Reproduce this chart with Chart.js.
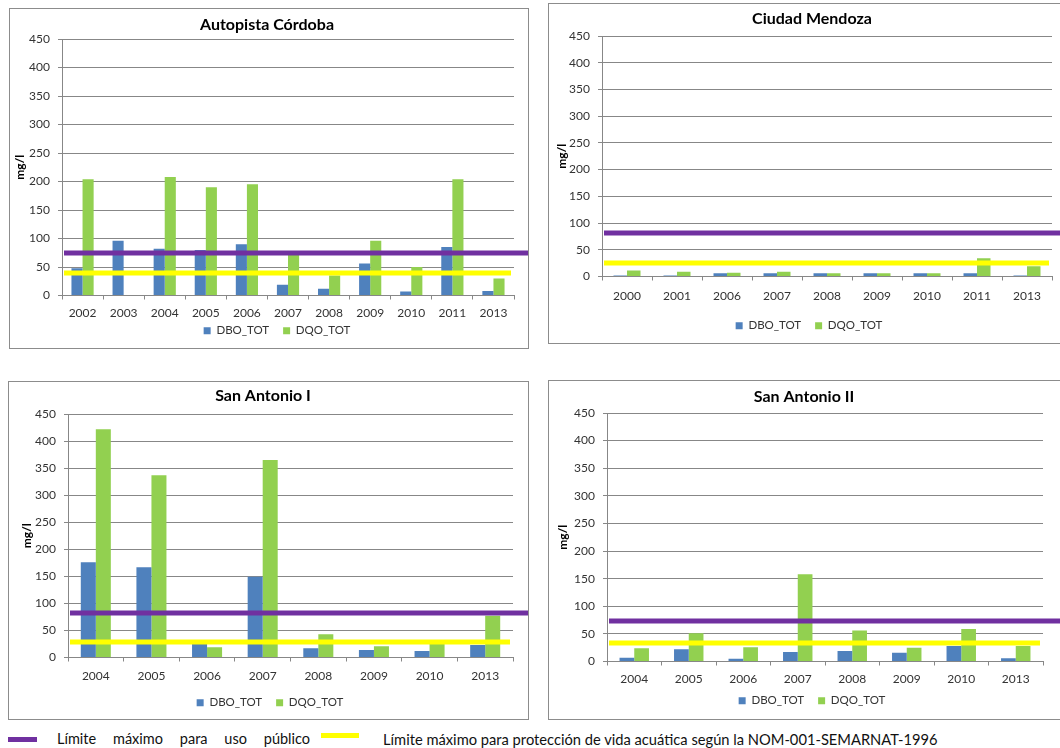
<!DOCTYPE html>
<html lang="es">
<head>
<meta charset="utf-8">
<title>DBO y DQO por sitio de muestreo</title>
<script src="https://cdn.jsdelivr.net/npm/chart.js@4.4.1/dist/chart.umd.min.js"></script>
<style>
  html, body { margin: 0; padding: 0; background: #fff; }
  body { width: 1060px; height: 748px; overflow: hidden; position: relative; font-family: Lato, "Open Sans", sans-serif; }
  .panel { position: absolute; }
  .frame { position: absolute; border: 1px solid #8c8c8c; box-sizing: border-box; pointer-events: none; }
  .key { position: absolute; top: 729px; height: 20px; font-size: 14.7px; color: #111; line-height: 20px; }
  .swatch { position: absolute; height: 5px; }
  .spread { display: flex; justify-content: space-between; font-size: 14.5px; }
</style>
</head>
<body>

<canvas id="c1" class="panel" width="520" height="341" style="left:9px;top:8px"></canvas>
<div class="frame" style="left:9px;top:8px;width:520px;height:341px"></div>

<canvas id="c2" class="panel" width="520" height="341" style="left:548px;top:3px"></canvas>
<div class="frame" style="left:548px;top:3px;width:520px;height:341px"></div>

<canvas id="c3" class="panel" width="521" height="339" style="left:8px;top:381px"></canvas>
<div class="frame" style="left:8px;top:381px;width:521px;height:339px"></div>

<canvas id="c4" class="panel" width="520" height="340" style="left:548px;top:380px"></canvas>
<div class="frame" style="left:548px;top:380px;width:520px;height:340px"></div>

<!-- common key for the two limit lines -->
<div class="swatch" style="left:8px;top:737px;width:29px;background:#7030A0"></div>
<div class="key spread" style="left:57px;width:253px">
  <span>Límite</span><span>máximo</span><span>para</span><span>uso</span><span>público</span>
</div>
<div class="swatch" style="left:321px;top:733px;width:38px;background:#FFFF00"></div>
<div class="key" style="left:383px;white-space:nowrap">Límite máximo para protección de vida acuática según la NOM-001-SEMARNAT-1996</div>

<script>
// ---- data ----
const seriesNames = ['DBO_TOT', 'DQO_TOT'];
const yTicks = { min: 0, max: 450, step: 50 };

const yearsCordoba = ['2002', '2003', '2004', '2005', '2006', '2007', '2008', '2009', '2010', '2011', '2013'];
const dboCordoba   = [48, 96, 82, 80, 90, 19, 12, 56, 7, 85, 8];
const dqoCordoba   = [204, 0, 208, 190, 195, 78, 35, 96, 50, 204, 30];

const yearsMendoza = ['2000', '2001', '2006', '2007', '2008', '2009', '2010', '2011', '2013'];
const dboMendoza   = [2, 2, 6, 6, 6, 6, 6, 6, 2];
const dqoMendoza   = [11, 9, 7, 9, 6, 6, 6, 34, 19];

const yearsSanAntonio1 = ['2004', '2005', '2006', '2007', '2008', '2009', '2010', '2013'];
const dboSanAntonio1   = [176, 167, 25, 149, 17, 14, 12, 23];
const dqoSanAntonio1   = [422, 337, 19, 365, 43, 21, 25, 77];

const yearsSanAntonio2 = ['2004', '2005', '2006', '2007', '2008', '2009', '2010', '2013'];
const dboSanAntonio2   = [7, 22, 5, 17, 19, 16, 28, 6];
const dqoSanAntonio2   = [24, 51, 26, 158, 56, 25, 59, 28];

// limit lines (mg/l) drawn across each station chart
const stationNames     = ['Autopista Córdoba', 'Ciudad Mendoza', 'San Antonio I', 'San Antonio II'];
const limitPublicUse   = [75, 82, 83, 74];
const limitAquaticLife = [40, 26, 29, 34];

// ---- styling ----
const BLUE = '#4F81BD';
const GREEN = '#92D050';
const PURPLE = '#7030A0';
const YELLOW = '#FFFF00';
const GRID = '#878787';

Chart.defaults.font.family = 'Lato, "Open Sans", sans-serif';
Chart.defaults.color = '#333';

// horizontal limit lines, positioned with the chart's own y scale
const limitLines = {
  id: 'limitLines',
  afterDatasetsDraw(chart, args, opts) {
    const { ctx, chartArea, scales } = chart;
    const y = scales.y;
    ctx.save();
    ctx.lineWidth = 5;
    ctx.lineCap = 'butt';
    const yp = Math.round(y.getPixelForValue(opts.publicUse));
    ctx.strokeStyle = PURPLE;
    ctx.beginPath();
    ctx.moveTo(chartArea.left + 2, yp);
    ctx.lineTo(chart.width, yp);
    ctx.stroke();
    const ya = Math.round(y.getPixelForValue(opts.aquaticLife));
    ctx.strokeStyle = YELLOW;
    ctx.beginPath();
    ctx.moveTo(chartArea.left + 2, ya);
    ctx.lineTo(chartArea.right - 3, ya);
    ctx.stroke();
    ctx.restore();
  }
};

// place the title and the series legend at given positions
const blockPlace = {
  id: 'blockPlace',
  afterLayout(chart, args, opts) {
    const t = chart.titleBlock;
    if (t && opts.titleX != null) {
      const dx = opts.titleX - (t.left + t.right) / 2;
      t.left += dx; t.right += dx;
    }
    const l = chart.legend;
    if (l && opts.legendX != null) {
      const w = l.right - l.left;
      const h = l.bottom - l.top;
      l.left = opts.legendX - w / 2;
      l.right = l.left + w;
      l.top = opts.legendY - l.options.labels.padding - 6;
      l.bottom = l.top + h;
    }
  }
};

function stationChart(id, idx, years, dbo, dqo, g) {
  // g: layout numbers for this panel (in canvas pixels)
  return new Chart(document.getElementById(id), {
    type: 'bar',
    data: {
      labels: years,
      datasets: [
        { label: seriesNames[0], data: dbo, backgroundColor: BLUE, borderWidth: 0 },
        { label: seriesNames[1], data: dqo, backgroundColor: GREEN, borderWidth: 0 }
      ]
    },
    options: {
      responsive: false,
      animation: false,
      devicePixelRatio: 1,
      categoryPercentage: 0.54,
      barPercentage: 1,
      layout: { padding: { left: 0, right: g.padRight, top: 0, bottom: g.padBottom } },
      plugins: {
        title: {
          display: true,
          text: stationNames[idx],
          color: '#000',
          font: { size: 16, weight: 'bold' },
          padding: { top: g.titleTop, bottom: g.titleBottom }
        },
        legend: {
          position: 'bottom',
          align: 'center',
          labels: {
            boxWidth: 7, boxHeight: 7, padding: 14,
            font: { size: 11.5 }, color: '#333'
          }
        },
        tooltip: { enabled: false },
        limitLines: { publicUse: limitPublicUse[idx], aquaticLife: limitAquaticLife[idx] },
        blockPlace: { titleX: g.titleX, legendX: g.legendX, legendY: g.legendY }
      },
      scales: {
        x: {
          offset: true,
          grid: { display: true, drawOnChartArea: false, drawTicks: true, tickLength: 4, color: GRID },
          border: { color: GRID },
          ticks: { font: { size: 12 }, color: '#333', padding: g.xPad, maxRotation: 0 },
          afterFit(s) { s.height = 40; }
        },
        y: {
          min: yTicks.min, max: yTicks.max,
          grid: { color: GRID, tickLength: 4 },
          border: { color: GRID },
          ticks: { stepSize: yTicks.step, font: { size: 12 }, color: '#333', padding: 8 },
          title: { display: true, text: 'mg/l', color: '#000', font: { size: 12, weight: 'bold' }, padding: { top: g.yTitlePad, bottom: 0 } },
          afterFit(s) { s.width = g.yWidth; }
        }
      }
    },
    plugins: [limitLines, blockPlace]
  });
}

// bottom padding = panel height - plot bottom - legend block (36) - x axis block (40)
stationChart('c1', 0, yearsCordoba, dboCordoba, dqoCordoba, {
  padRight: 15, padBottom: -22, titleTop: 7.4, titleBottom: 4.4,
  xPad: 6, yWidth: 53, yTitlePad: 4, titleX: 258, legendX: 268, legendY: 323
});
stationChart('c2', 1, yearsMendoza, dboMendoza, dqoMendoza, {
  padRight: 16, padBottom: -8, titleTop: 6.4, titleBottom: 7.4,
  xPad: 8, yWidth: 54, yTitlePad: 7, titleX: 264, legendX: 261, legendY: 323
});
stationChart('c3', 2, yearsSanAntonio1, dboSanAntonio1, dqoSanAntonio1, {
  padRight: 16, padBottom: -13, titleTop: 5.4, titleBottom: 8.4,
  xPad: 7, yWidth: 60, yTitlePad: 12, titleX: 255, legendX: 262, legendY: 322
});
stationChart('c4', 3, yearsSanAntonio2, dboSanAntonio2, dqoSanAntonio2, {
  padRight: 25, padBottom: -17, titleTop: 7.4, titleBottom: 6.4,
  xPad: 6, yWidth: 59, yTitlePad: 8, titleX: 256, legendX: 264, legendY: 321
});
</script>
</body>
</html>
